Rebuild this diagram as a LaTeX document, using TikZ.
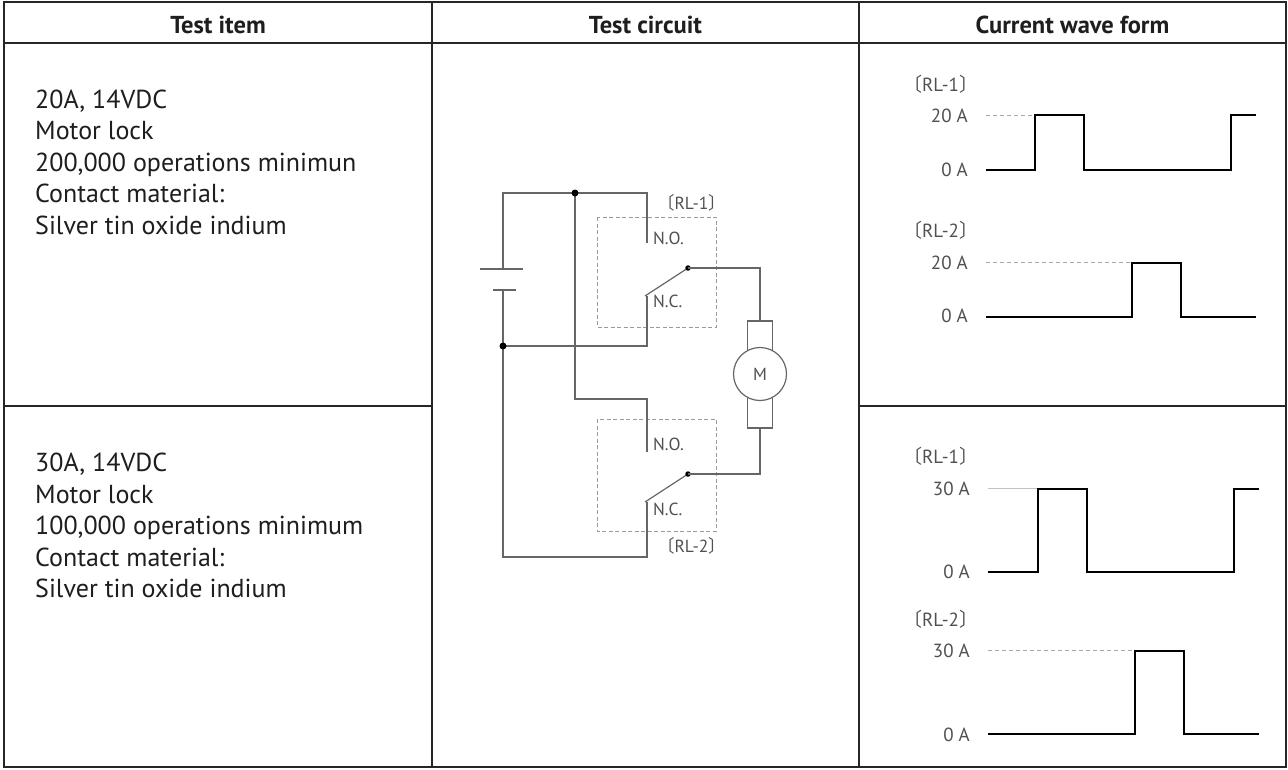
\documentclass[tikz,border=0pt]{standalone}
\usepackage{fontspec}
\setmainfont{PT Sans}
\newfontfamily\cjk{Noto Sans CJK JP}
\definecolor{border}{HTML}{262626}
\definecolor{txt}{HTML}{1E1E1E}
\definecolor{wirec}{HTML}{666666}
\definecolor{boxc}{HTML}{9A9A9A}
\definecolor{labc}{HTML}{505050}
\definecolor{lvlc}{HTML}{A8A8A8}
\newcommand{\lbr}{\makebox[0.42em][r]{\cjk 〔}}
\newcommand{\rbr}{\makebox[0.42em][l]{\cjk 〕}}
\tikzset{
  tab/.style={draw=border, line width=2.4pt},
  wire/.style={draw=wirec, line width=1.2pt},
  dotn/.style={circle, fill=black, inner sep=0pt, minimum size=7pt},
  sdot/.style={circle, fill=black, inner sep=0pt, minimum size=5.5pt},
  rlbox/.style={draw=boxc, dash pattern=on 4pt off 2.5pt, line width=1pt},
  wave/.style={draw=black, line width=2pt},
  lvl/.style={draw=lvlc, dash pattern=on 4pt off 3pt, line width=0.9pt},
  lvls/.style={draw=lvlc!70, line width=0.9pt},
  body/.style={font=\fontsize{26}{31}\selectfont, text=txt, anchor=base west, inner sep=0pt},
  hdr/.style={font=\bfseries\fontsize{24.5}{28}\selectfont, text=txt, anchor=base, inner sep=0pt},
  clab/.style={font=\fontsize{17.5}{19}\selectfont, text=labc, anchor=base west, inner sep=0pt},
  wlab/.style={font=\fontsize{19}{21}\selectfont, text=labc, anchor=base east, inner sep=0pt},
  wrl/.style={font=\fontsize{19}{21}\selectfont, text=labc, anchor=base west, inner sep=0pt},
}
\begin{document}
\begin{tikzpicture}[x=1pt,y=-1pt]
\useasboundingbox (0,0) rectangle (1288,769);
\fill[white] (0,0) rectangle (1288,769);

% ---- table ----
\draw[tab] (4,2) rectangle (1286,767);
\draw[tab] (4,43) -- (1286,43);
\draw[tab] (432,2) -- (432,767);
\draw[tab] (859,2) -- (859,767);
\draw[tab] (4,406) -- (432,406);
\draw[tab] (859,406) -- (1286,406);

\node[hdr] (h1) at (218,33) {Test item};
\node[hdr] (h2) at (645.5,33) {Test circuit};
\node[hdr] (h3) at (1072.5,33) {Current wave form};

% ---- test items ----
\node[body] (a1) at (35,108) {20A, 14VDC};
\node[body] (a2) at (35,139.5) {Motor lock};
\node[body] (a3) at (35,171) {200,000 operations minimun};
\node[body] (a4) at (35,202.5) {Contact material:};
\node[body] (a5) at (35,234) {Silver tin oxide indium};

\node[body] (b1) at (35,471.5) {30A, 14VDC};
\node[body] (b2) at (35,503) {Motor lock};
\node[body] (b3) at (35,534.5) {100,000 operations minimum};
\node[body] (b4) at (35,566) {Contact material:};
\node[body] (b5) at (35,597.5) {Silver tin oxide indium};

% ---- circuit ----
\coordinate (bt) at (503,269);
\coordinate (bb) at (503,290);
\coordinate (tl) at (503,193);
\coordinate (tr) at (647,193);
\coordinate (no1) at (647,243);
\coordinate (nc1) at (647,296);
\coordinate (nc1a) at (645,296);
\coordinate (ml) at (647,346);
\coordinate (ul) at (575,399);
\coordinate (ur) at (647,399);
\coordinate (no2) at (647,452);
\coordinate (bl) at (503,557);
\coordinate (br) at (647,557);
\coordinate (nc2) at (647,502);
\coordinate (nc2a) at (645,502);
\coordinate (mt) at (760,268);
\coordinate (mb) at (760,474);

% relay boxes
\draw[rlbox] (597,217) rectangle (716,327);
\draw[rlbox] (597,419) rectangle (716,531);

% battery
\draw[wire] (480,269) -- (523,269);
\draw[draw=wirec, line width=2.6pt] (493,290) -- (516,290);

% wires
\draw[wire] (bt) -- (tl) -- (tr) -- (no1);
\draw[wire] (575,193) -- (ul) -- (ur) -- (no2);
\draw[wire] (bb) -- (bl) -- (br) -- (nc2);
\draw[wire] (503,346) -- (ml) -- (nc1);
\draw[wire] (nc1a) -- (688,268);
\draw[wire] (nc2a) -- (688,474);

\node[dotn] (j1) at (575,193) {};
\node[dotn] (j2) at (503,346) {};
\node[sdot] (c1) at (688,268) {};
\node[sdot] (c2) at (688,474) {};

% motor
\draw[wire] (747.5,321) rectangle (772.5,428);
\node[circle, draw=wirec, line width=1.2pt, fill=white, minimum size=53pt, inner sep=0pt,
      font=\fontsize{17.5}{19}\selectfont, text=labc] (mot) at (760,374) {M};
\draw[wire] (c1.center) -- (mt) -- (760,321);
\draw[wire] (c2.center) -- (mb) -- (760,428);

% labels
\node[clab] (l1) at (653,244) {N.O.};
\node[clab] (l2) at (653,307) {N.C.};
\node[clab] (l3) at (667,209) {\lbr RL-1\rbr};
\node[clab] (l4) at (653,450) {N.O.};
\node[clab] (l5) at (653,515) {N.C.};
\node[clab] (l6) at (667,552) {\lbr RL-2\rbr};

% ---- waveforms row 1 ----
\node[wrl] (w1) at (914,91) {\lbr RL-1\rbr};
\node[wlab] (w1h) at (968,122.7) {20 A};
\node[wlab] (w1l) at (968,176.7) {0 A};
\draw[lvl] (986,115) -- (1034,115);
\draw[wave] (986,169.5) -- (1034.5,169.5) -- (1034.5,115) -- (1083.5,115) -- (1083.5,169.5) -- (1231,169.5) -- (1231,115) -- (1256,115);

\node[wrl] (w2) at (914,237) {\lbr RL-2\rbr};
\node[wlab] (w2h) at (968,269) {20 A};
\node[wlab] (w2l) at (968,322.7) {0 A};
\draw[lvl] (986,262.5) -- (1131.5,262.5);
\draw[wave] (986,316.5) -- (1131.5,316.5) -- (1131.5,262.5) -- (1181,262.5) -- (1181,316.5) -- (1256,316.5);

% ---- waveforms row 2 ----
\node[wrl] (w3) at (914,463) {\lbr RL-1\rbr};
\node[wlab] (w3h) at (970,495) {30 A};
\node[wlab] (w3l) at (970,578) {0 A};
\draw[lvls] (988,488.5) -- (1037,488.5);
\draw[wave] (988,571.5) -- (1037.5,571.5) -- (1037.5,488.5) -- (1086.5,488.5) -- (1086.5,571.5) -- (1233.5,571.5) -- (1233.5,488.5) -- (1259,488.5);

\node[wrl] (w4) at (914,626) {\lbr RL-2\rbr};
\node[wlab] (w4h) at (970,657) {30 A};
\node[wlab] (w4l) at (970,741.5) {0 A};
\draw[lvl] (988,650.5) -- (1135,650.5);
\draw[wave] (988,733.5) -- (1135,733.5) -- (1135,650.5) -- (1184,650.5) -- (1184,733.5) -- (1259,733.5);
\end{tikzpicture}
\end{document}
